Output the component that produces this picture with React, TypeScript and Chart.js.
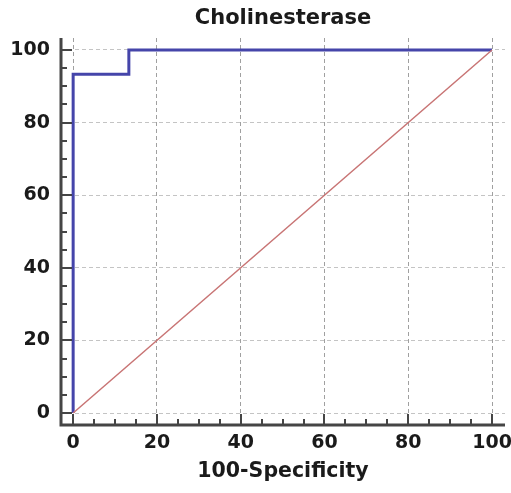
import React, { useEffect, useRef } from "react";
import { Chart, registerables } from "chart.js";

Chart.register(...registerables);

const chartTitle = "Cholinesterase";
const xAxisTitle = "100-Specificity";
const rocX = [0, 0, 13.3, 13.3, 100];
const rocY = [0, 93.3, 93.3, 100, 100];
const refX = [0, 100];
const refY = [0, 100];
const majorTicks = [0, 20, 40, 60, 80, 100];
const minorStep = 5;

const FONT = "'DejaVu Sans', 'Liberation Sans', Arial, sans-serif";
const AXIS_COLOR = "#454545";

const innerTicksPlugin = {
  id: "innerTicks",
  afterDraw(chart: any) {
    const { ctx, chartArea } = chart;
    const xs = chart.scales.x;
    const ys = chart.scales.y;
    ctx.save();
    ctx.strokeStyle = AXIS_COLOR;
    // axis lines
    ctx.lineWidth = 3;
    ctx.beginPath();
    ctx.moveTo(chartArea.left, chartArea.top);
    ctx.lineTo(chartArea.left, chartArea.bottom);
    ctx.lineTo(chartArea.right, chartArea.bottom);
    ctx.stroke();
    ctx.lineWidth = 2;
    for (let v = 0; v <= 100; v += minorStep) {
      const major = majorTicks.includes(v);
      const len = major ? 11 : 6;
      const py = Math.round(ys.getPixelForValue(v));
      ctx.beginPath();
      ctx.moveTo(chartArea.left, py);
      ctx.lineTo(chartArea.left + len, py);
      ctx.stroke();
      const px = Math.round(xs.getPixelForValue(v));
      ctx.beginPath();
      ctx.moveTo(px, chartArea.bottom);
      ctx.lineTo(px, chartArea.bottom - len);
      ctx.stroke();
    }
    // main title centered over the chart area
    ctx.fillStyle = "#1a1a1a";
    ctx.font = `bold 21px ${FONT}`;
    ctx.textAlign = "center";
    ctx.textBaseline = "middle";
    ctx.fillText(chartTitle, (chartArea.left + chartArea.right) / 2, 19);
    ctx.restore();
  },
};

export default function App() {
  const ref = useRef<HTMLCanvasElement | null>(null);

  useEffect(() => {
    if (!ref.current) return;
    const chart = new Chart(ref.current, {
      type: "line",
      data: {
        datasets: [
          {
            label: "Reference",
            data: refX.map((x, i) => ({ x, y: refY[i] })),
            borderColor: "#c87474",
            borderWidth: 1.5,
            pointRadius: 0,
            fill: false,
          },
          {
            label: "ROC",
            data: rocX.map((x, i) => ({ x, y: rocY[i] })),
            borderColor: "#4545aa",
            borderWidth: 3,
            pointRadius: 0,
            fill: false,
          },
        ],
      },
      options: {
        animation: false,
        responsive: true,
        maintainAspectRatio: false,
        layout: { padding: { top: 38, right: 6, left: 0, bottom: 0 } },
        plugins: {
          legend: { display: false },
          title: { display: false },
          tooltip: { enabled: false },
        },
        scales: {
          x: {
            type: "linear",
            min: -2.9,
            max: 103.1,
            afterBuildTicks: (s: any) => {
              s.ticks = majorTicks.map((v) => ({ value: v }));
            },
            afterFit: (s: any) => {
              s.height = 68;
              s.paddingLeft = 0;
              s.paddingRight = 0;
            },
            grid: {
              color: "#a0a0a0",
              lineWidth: 1,
              drawTicks: false,
            },
            border: { display: false, dash: [4, 3] },
            ticks: {
              padding: 7,
              color: "#1a1a1a",
              font: { family: FONT, size: 19, weight: "bold" },
            },
            title: {
              display: true,
              text: xAxisTitle,
              color: "#1a1a1a",
              font: { family: FONT, size: 20.5, weight: "bold" },
              padding: { top: 0, bottom: 9 },
            },
          },
          y: {
            type: "linear",
            min: -3.3,
            max: 103.3,
            afterBuildTicks: (s: any) => {
              s.ticks = majorTicks.map((v) => ({ value: v }));
            },
            afterFit: (s: any) => {
              s.width = 61;
              s.paddingTop = 0;
              s.paddingBottom = 0;
            },
            grid: {
              color: "#c4c4c4",
              lineWidth: 1,
              drawTicks: false,
            },
            border: { display: false, dash: [4, 3] },
            ticks: {
              padding: 11,
              color: "#1a1a1a",
              font: { family: FONT, size: 19, weight: "bold" },
            },
          },
        },
      } as any,
      plugins: [innerTicksPlugin],
    });
    return () => chart.destroy();
  }, []);

  return (
    <div style={{ position: "fixed", left: 0, top: 0, width: 511, height: 493, background: "#fff" }}>
      <canvas ref={ref} />
    </div>
  );
}
